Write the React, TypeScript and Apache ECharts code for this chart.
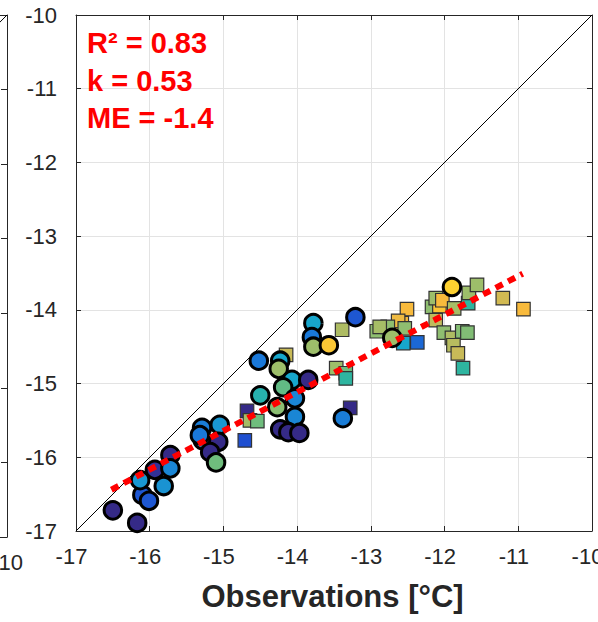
import React, { useEffect, useRef } from 'react';
import * as echarts from 'echarts';

// ---- data ----
const AXIS_MIN = -17;
const AXIS_MAX = -10;
const TICK_STEP = 1;

// circles (filled, thick black edge)
const circleX = [-16.5, -16.17, -16.1, -16.01, -16.13, -15.93, -15.81, -15.72, -15.72, -15.29, -15.05, -15.28, -15.07, -15.18, -15.1, -15.32,
  -14.52, -14.23, -14.25, -14.07, -14.19, -13.85, -14.5, -14.03, -14.27, -14.03, -14.23, -14.12, -13.97, -13.38,
  -13.78, -13.8, -13.78, -13.57, -13.21, -12.71, -11.9];
const circleY = [-16.72, -16.89, -16.51, -16.59, -16.31, -16.17, -16.39, -15.97, -16.15, -15.6, -15.56, -15.77, -15.79, -15.93, -16.07, -15.7,
  -14.69, -14.69, -14.8, -14.95, -15.05, -14.95, -15.16, -15.2, -15.32, -15.45, -15.62, -15.66, -15.67, -15.47,
  -14.18, -14.37, -14.5, -14.48, -14.1, -14.38, -13.69];
const circleV = [0, 0, 0.12, 0.12, 0.32, 0.02, 0.3, 0, 0.25, 0.22, 0.32, 0.3, 0, 0, 0.6, 0.2,
  0.2, 0.4, 0.7, 0.4, 0.58, 0, 0.47, 0.25, 0.66, 0.25, 0, 0, 0, 0.22,
  0.4, 0.2, 0.7, 0.96, 0.12, 0.7, 1.0];

// squares
const squareX = [-13.39, -12.92, -12.51, -12.58, -12.63, -12.54, -12.77, -12.88, -12.56, -12.37, -13.47, -13.34, -13.34,
  -12.17, -12.07, -12.12, -12.03, -11.87, -11.68, -11.67, -11.56, -12.12, -12.01, -11.9, -11.88, -11.82, -11.75,
  -11.76, -11.69, -11.21, -10.93, -14.15, -14.68, -14.64, -14.54, -14.71, -13.28];
const squareY = [-14.27, -14.29, -13.99, -14.18, -14.15, -14.25, -14.23, -14.23, -14.45, -14.44, -14.79, -14.86, -14.93,
  -13.96, -13.95, -13.84, -13.87, -13.98, -13.91, -13.77, -13.66, -14.14, -14.31, -14.38, -14.48, -14.59, -14.79,
  -14.29, -14.31, -13.84, -13.99, -14.61, -15.37, -15.5, -15.51, -15.77, -15.33];
const squareV = [0.74, 0.67, 0.9, 0.9, 0.88, 0.67, 0.67, 0.72, 0.4, 0.16, 0.7, 0.6, 0.5,
  0.67, 0.95, 0.7, 0.9, 0.72, 0.5, 0.7, 0.7, 0.78, 0.67, 0.74, 0.76, 0.8, 0.5,
  0.65, 0.64, 0.82, 0.9, 0.8, 0, 0.72, 0.6, 0.1, 0];

// regression fit line endpoints
const fitX = [-16.52, -10.94];
const fitY = [-16.44, -13.51];

// 1:1 line
const oneToOneX = [-17, -10];
const oneToOneY = [-17, -10];

const statsLines = ['R² = 0.83', 'k = 0.53', 'ME = -1.4'];
const xTitle = 'Observations [°C]';

// ---- styles ----
const PARULA = ['#352a87', '#1f4fd0', '#1a78d8', '#1a93d2', '#17a6cc', '#2eb5a0', '#6fbd7d', '#9dbe6a', '#c8ba58', '#f8ba3c', '#fdd030'];
const AXIS_COLOR = '#262626';
const FONT = '"Liberation Sans", Arial, Helvetica, sans-serif';

function zip3(a: number[], b: number[], c: number[]) {
  return a.map((v, i) => [v, b[i], c[i]]);
}
function zip2(a: number[], b: number[]) {
  return a.map((v, i) => [v, b[i]]);
}

export default function App() {
  const ref = useRef<HTMLDivElement>(null);
  useEffect(() => {
    if (!ref.current) return;
    const chart = echarts.init(ref.current, undefined, { renderer: 'svg' });
    const baseAxis = {
      type: 'value' as const,
      min: AXIS_MIN,
      max: AXIS_MAX,
      interval: TICK_STEP,
      axisLine: { show: true, onZero: false, lineStyle: { color: AXIS_COLOR, width: 1 } },
      axisTick: { show: true, inside: true, length: 5, lineStyle: { color: AXIS_COLOR, width: 1 } },
      splitLine: { show: false },
      axisLabel: { show: false },
    };
    const option: any = {
      animation: false,
      backgroundColor: '#ffffff',
      grid: [
        { left: 76, top: 15, width: 516, height: 516, outerBoundsMode: 'none', containLabel: false },
        { left: -509, top: 15, width: 516, height: 522, outerBoundsMode: 'none', containLabel: false },
      ],
      xAxis: [
        {
          ...baseAxis,
          gridIndex: 0,
          position: 'bottom',
          splitLine: { show: true, lineStyle: { color: '#e3e3e3', width: 1 } },
          axisLabel: { show: true, color: AXIS_COLOR, fontSize: 22, fontFamily: FONT, margin: 14, padding: [0, 9, 0, 0] },
          name: xTitle,
          nameLocation: 'middle',
          nameGap: 50,
          nameTextStyle: { color: AXIS_COLOR, fontSize: 31, fontWeight: 'bold', fontFamily: FONT, padding: [0, 3, 0, 0] },
        },
        { ...baseAxis, gridIndex: 0, position: 'top' },
        {
          ...baseAxis,
          gridIndex: 1,
          position: 'bottom',
          axisLabel: {
            show: true, color: AXIS_COLOR, fontSize: 22, fontFamily: FONT, margin: 14,
            formatter: (v: number) => (v === AXIS_MAX ? String(v) : ''),
          },
        },
        { ...baseAxis, gridIndex: 1, position: 'top', axisTick: { show: false } },
      ],
      yAxis: [
        {
          ...baseAxis,
          gridIndex: 0,
          position: 'left',
          splitLine: { show: true, lineStyle: { color: '#e3e3e3', width: 1 } },
          axisLabel: { show: true, color: AXIS_COLOR, fontSize: 22, fontFamily: FONT, margin: 19 },
        },
        { ...baseAxis, gridIndex: 0, position: 'right' },
        { ...baseAxis, gridIndex: 1, position: 'right', axisTick: { show: true, inside: true, length: 6, lineStyle: { color: AXIS_COLOR, width: 1 } } },
      ],
      visualMap: {
        type: 'continuous',
        show: false,
        min: 0,
        max: 1,
        dimension: 2,
        seriesIndex: [1, 2],
        inRange: { color: PARULA },
      },
      series: [
        {
          type: 'line',
          xAxisIndex: 0,
          yAxisIndex: 0,
          data: zip2(oneToOneX, oneToOneY),
          symbol: 'none',
          silent: true,
          lineStyle: { color: '#000', width: 1 },
          z: 1,
        },
        {
          type: 'scatter',
          xAxisIndex: 0,
          yAxisIndex: 0,
          data: zip3(squareX, squareY, squareV),
          symbol: 'rect',
          symbolSize: 13.5,
          itemStyle: { borderColor: '#333', borderWidth: 1.2, opacity: 1 },
          z: 2,
        },
        {
          type: 'scatter',
          xAxisIndex: 0,
          yAxisIndex: 0,
          data: zip3(circleX, circleY, circleV),
          symbol: 'circle',
          symbolSize: 17.5,
          itemStyle: { borderColor: '#000', borderWidth: 3, opacity: 1 },
          z: 3,
        },
        {
          type: 'line',
          xAxisIndex: 0,
          yAxisIndex: 0,
          data: zip2(fitX, fitY),
          symbol: 'none',
          silent: true,
          lineStyle: { color: '#ff0000', width: 6, type: [8, 6], cap: 'butt' },
          z: 4,
        },
        {
          type: 'line',
          xAxisIndex: 2,
          yAxisIndex: 2,
          data: zip2(oneToOneX, oneToOneY),
          symbol: 'none',
          silent: true,
          lineStyle: { color: '#000', width: 1 },
          z: 1,
        },
      ],
      graphic: statsLines.map((t, i) => ({
        type: 'text',
        x: 87,
        y: 43 + i * 37.5,
        z: 10,
        style: {
          text: t,
          fill: '#ff0000',
          font: `bold 29px ${FONT}`,
          verticalAlign: 'middle',
          align: 'left',
        },
      })),
    };
    chart.setOption(option);
    return () => chart.dispose();
  }, []);
  return <div ref={ref} style={{ width: 598, height: 622, position: 'absolute', left: 0, top: 0 }} />;
}
